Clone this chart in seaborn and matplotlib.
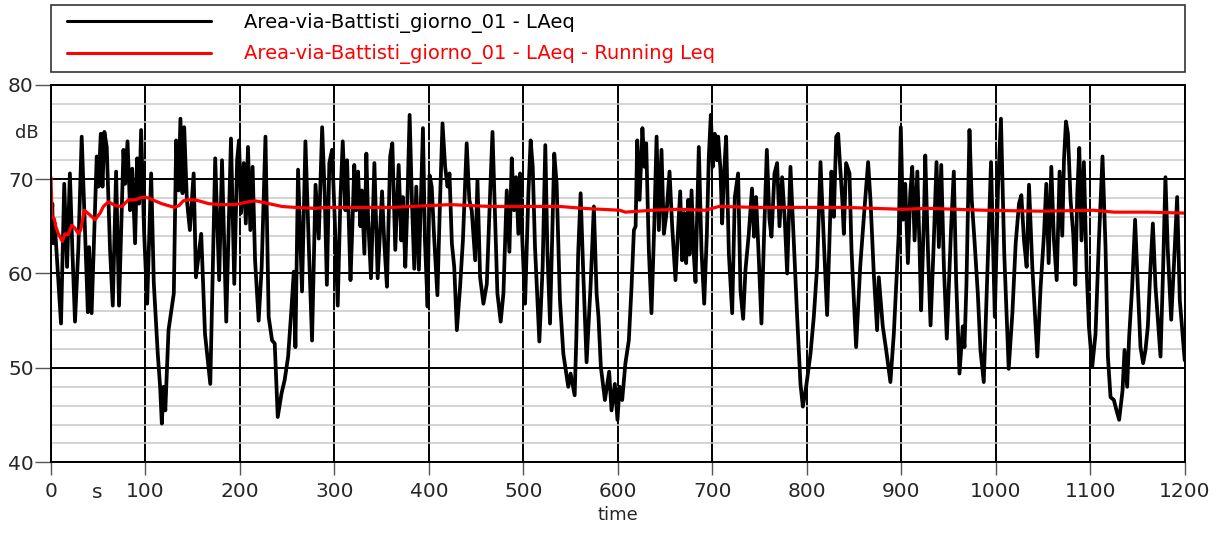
import numpy as np
import pandas as pd
import matplotlib
matplotlib.use("Agg")
import matplotlib.pyplot as plt
import matplotlib.transforms as mtrans
from matplotlib.patches import Rectangle
import seaborn as sns

# --- data (peaks / troughs of the LAeq trace) ---
time_s = [
    0, 1.4, 2, 4, 10.6, 14, 17, 20, 22.6, 25.4, 29, 32.5, 39, 40.3, 43, 48.4, 50.2, 52.7, 54.5, 56.5,
    59, 62.5, 65.4, 68.9, 72, 76.7, 78.5, 81, 83.7, 86, 89, 91.2, 93.3, 95.4, 98.5, 101.8, 106, 108.8,
    113, 115.5, 117.3, 119.2, 121, 124.4, 130, 132.5, 135, 137, 139.2, 141, 143.8, 147, 151, 153.4,
    159, 163, 168.6, 173.8, 178, 181, 185.5, 190.5, 194, 197, 199, 201.2, 204, 206.2, 208.5, 211,
    213.4, 216, 219.8, 223, 227, 230.4, 234, 236.8, 240, 244, 247.3, 251, 254.4, 257, 258.7, 261.5,
    265.7, 269.3, 272.8, 276.3, 280, 283.4, 287, 289.7, 292, 294.6, 297.5, 300, 303.5, 306.3, 308.8,
    311.6, 313.4, 317, 319, 321, 323, 325, 327.5, 329, 331.7, 333.8, 335.6, 338.7, 342.3, 345.8,
    350.4, 352.8, 355.6, 359, 361.3, 364.4, 368, 370.8, 372.5, 375, 376.8, 379.6, 382, 384.5, 386.6,
    389.4, 391.5, 393.7, 395.8, 398.6, 400.7, 403, 405.5, 409, 411.8, 414.4, 417.2, 419.7, 421.8,
    424.3, 426.8, 429.6, 433, 436, 440, 442.8, 445.3, 449, 451.4, 454.2, 457.7, 461.3, 464.8, 467.3,
    470.1, 472.5, 476, 478.9, 482.4, 485.2, 487.7, 490.1, 492.3, 494.7, 496.5, 499, 501.8, 505.3,
    507.7, 509.9, 512.3, 516.9, 520.4, 523.2, 525.4, 528.2, 531, 532.7, 535.2, 538.7, 542.3, 547.5,
    550, 554.3, 556.1, 558, 560.6, 563.4, 566.9, 571.1, 574.6, 577.5, 579.5, 582, 586.3, 590.8, 593.3,
    596.8, 599.6, 601.8, 604.6, 608, 611.6, 614.5, 617, 618.8, 620.5, 623, 626, 628.2, 630, 632.8,
    635.6, 638.5, 641, 643.4, 646.2, 648.7, 651.5, 654.7, 657.5, 661, 663.1, 666, 668, 670.2, 672.3,
    674.4, 675.8, 678, 680.4, 682.2, 685.7, 688.5, 691.4, 694.2, 696.3, 698.4, 700.5, 702.6, 704.8,
    706.2, 708.6, 710.4, 712.2, 714.6, 717.5, 721, 723.8, 727.3, 729.8, 732.6, 735.1, 738.6, 742,
    744.2, 746.3, 749.1, 752, 754.8, 757.7, 760.5, 762.6, 765.8, 768.6, 771.1, 773.9, 776.7, 779.2,
    782.7, 786.2, 789.8, 793.3, 795.8, 799.3, 803.9, 807.4, 810.9, 814.5, 818, 821.5, 824, 826.1,
    828.6, 831.1, 833.2, 835.3, 837.4, 839.2, 841.6, 845.2, 847.3, 852.2, 856.5, 860.7, 864.9, 867.4,
    870.9, 874.4, 876.2, 880.4, 884, 888.5, 892.1, 894.5, 897.3, 899.5, 901.8, 904.2, 907, 909.5,
    911.6, 914.1, 917, 919.4, 921, 924, 925.4, 928.2, 931, 934.2, 937.3, 939.8, 942.3, 945.1, 948.2,
    952.8, 955.6, 958.1, 961.6, 965.1, 966.9, 969, 972.2, 974.6, 977.5, 981, 983.8, 987.3, 991.5,
    995, 999, 1002.5, 1005.5, 1009, 1013.7, 1017.6, 1021.1, 1024.6, 1027.1, 1029.9, 1032.7, 1035.2,
    1038.7, 1044, 1047.5, 1051.1, 1053.5, 1056, 1058.8, 1061.6, 1064.5, 1067.6, 1070.4, 1072.2,
    1074.3, 1076.4, 1079.2, 1082, 1084.2, 1086.3, 1088.4, 1090.8, 1093.3, 1096.1, 1098.6, 1102.1,
    1105.6, 1109.2, 1113, 1116.2, 1118.7, 1121.5, 1125, 1127.8, 1130.6, 1134.2, 1136.3, 1139.1,
    1141.2, 1144.4, 1147.5, 1150.4, 1153.2, 1156, 1158.5, 1161, 1163.8, 1166.3, 1169.1, 1174.4,
    1177.2, 1179.6, 1182.1, 1185.7, 1188.5, 1192, 1194.8, 1197.7, 1200,
]
laeq_db = [
    64, 67.4, 63.2, 65.3, 54.7, 69.5, 60.7, 70.6, 62.5, 54.9, 62.8, 74.5, 55.9, 62.8, 55.8, 72.4, 69.2, 74.8, 69.2, 75,
    73.4, 62.5, 56.6, 70.8, 56.6, 73.1, 69.5, 74, 66.7, 71.1, 63.2, 72.2, 67.4, 75.2, 64.5, 56.8, 70.6, 59,
    51.5, 48, 44.1, 48, 45.5, 54, 57.9, 74.1, 68.8, 76.4, 68.5, 75.5, 67.8, 64.6, 70.6, 59.6,
    64.2, 53.6, 48.3, 72.2, 59.3, 72, 54.9, 74.3, 58.9, 72, 74.1, 66.4, 71.7, 65.3, 73.4, 64.6,
    71.3, 61.4, 55, 60.7, 74.5, 55.4, 52.9, 52.6, 44.8, 47.3, 48.7, 51.2, 56.1, 60.2, 52.2, 71,
    58.1, 74, 63.2, 52.9, 69.4, 63.7, 75.5, 68.5, 58.8, 71.7, 73.1, 66.7, 56.6, 67.8, 74,
    66.7, 72, 59.3, 65, 71.5, 66.7, 70.8, 65, 68.8, 62.1, 72.7, 66, 59.5, 71.7, 59.5,
    68.7, 63.2, 58.6, 72.4, 73.8, 62.5, 71.5, 63.5, 68.1, 60.7, 66, 76.8, 67.8, 60.5, 69.2,
    60.4, 67.8, 75.4, 63.5, 56.5, 70.4, 69.2, 63.9, 57.7, 67.8, 75.9, 71.3, 69.2, 70.6,
    63.2, 60.7, 54, 58.6, 63.5, 73.8, 67.8, 66.7, 61.4, 69.9, 59.6, 56.8, 58.9, 68.5, 75,
    65.7, 57.9, 54.9, 57.9, 68.8, 62.3, 72.2, 66.7, 70.2, 64.2, 70.6, 63.2, 56.8, 68.5,
    74.1, 71.3, 62.8, 52.8, 60.7, 73.6, 62.5, 54.7, 66, 72.7, 69.5, 57.2, 51.5, 48,
    49.4, 47.1, 53.3, 62.1, 68.5, 60, 50.6, 58.6, 67.1, 57.9, 55.4, 50.1, 46.6, 49.6, 45.5,
    48.3, 44.5, 48, 46.6, 50.5, 52.9, 58.6, 64.6, 65, 74.1, 67.8, 75.4, 71.3, 73.8, 62.5,
    55.8, 65, 74.5, 64.6, 73.1, 64.2, 66.4, 70.8, 65, 59.3, 63.5, 68.7, 61.4, 66.4, 61.1,
    67.8, 62, 68.8, 62, 59.1, 73.4, 62.5, 56.8, 64.2, 72.4, 76.8, 71.3, 74.8, 72,
    74.5, 71, 65.3, 70.2, 74.5, 62.1, 55.8, 68.1, 70.6, 58.2, 55.2, 60.4, 64.2, 69,
    63.9, 68.1, 61.8, 54.7, 64.2, 73.1, 65.7, 63.9, 70.6, 71.7, 65, 70.2, 65.7, 60,
    71.3, 63.5, 55.4, 48.3, 45.9, 48, 51.5, 55.4, 60.7, 71.8, 63.5, 55.6, 63.5, 70.8,
    66, 74.5, 74.8, 71.3, 68.1, 64.2, 71.7, 70.6, 62.5, 52.2, 60.7, 66.4, 71.8, 67.8,
    60, 54, 59.6, 54.4, 51.9, 48.5, 53.6, 58.6, 64.2, 75.5, 65.7, 69.5, 61.1, 68.5,
    71.3, 63.5, 70.8, 62.5, 56.1, 66, 72.5, 62.5, 54.5, 62.8, 71.8, 62.8, 71.5, 60.7, 53.1,
    65, 70.8, 59.3, 49.4, 54.4, 52.2, 58.9, 75.2, 67.8, 63.5, 57.9, 51.9, 48.5, 61.4,
    71.8, 55.4, 69.5, 76.4, 62.1, 49.9, 55.8, 63.2, 67.4, 68.3, 63.5, 60.7, 69.4,
    60.7, 51.2, 58.6, 64.2, 69.5, 61.1, 71.3, 63.5, 59.3, 70.8, 64, 72,
    76.1, 74.8, 67.8, 64.2, 58.8, 68.5, 73.3, 63.5, 71.8, 60.7, 54.4, 50.1,
    53.6, 63.5, 72.4, 62.8, 51.2, 46.9, 46.6, 45.5, 44.5, 47.6, 51.9, 48,
    53.3, 58.6, 65.7, 58.6, 52.2, 50.5, 51.9, 54.4, 60.7, 65.3, 58.6, 51.2,
    60.7, 70.2, 62.5, 55.1, 60.7, 68.1, 57.2, 53.6, 50.8,
]
leq_time_s = [
    0, 1, 3.5, 5, 7.8, 12, 14.8, 18, 21.9, 25.4, 29, 31.4, 35.3, 41.3, 46.6, 52, 55.5, 60.8, 67.8,
    74.9, 82, 89, 94.3, 99, 103, 117, 130.7, 135.5, 140, 145, 152.7, 166.8, 177, 195, 209, 216, 226,
    244.5, 258.7, 280, 290, 304.6, 360, 422.5, 464.8, 500, 538.7, 563.4, 602, 608, 636, 664, 692.8,
    707, 749, 791.5, 841, 901, 928, 988, 1048, 1103.5, 1125, 1160, 1200,
]
running_leq_db = [
    70.2, 66, 65.8, 65, 64.2, 63.4, 64.2, 64.1, 65.1, 64.8, 64.2, 64.6, 66.7, 66.2, 65.7, 66.4, 67.1, 67.6, 67.2,
    67.1, 67.8, 67.8, 68, 68.1, 68, 67.4, 67, 67.2, 67.7, 67.8, 67.8, 67.4, 67.3, 67.3, 67.6, 67.7, 67.5,
    67.1, 67, 66.9, 67, 67, 67, 67.3, 67.1, 67.1, 67.1, 66.9, 66.7, 66.5, 66.7, 66.8, 66.7,
    67.1, 67, 67, 67, 66.8, 66.9, 66.7, 66.6, 66.7, 66.5, 66.5, 66.4,
]

label_laeq = "Area-via-Battisti_giorno_01 - LAeq"
label_leq = "Area-via-Battisti_giorno_01 - LAeq - Running Leq"
x_ticks = list(range(0, 1201, 100))
y_ticks = [40, 50, 60, 70, 80]

laeq = pd.DataFrame({"time": time_s, "dB": laeq_db})
leq = pd.DataFrame({"time": leq_time_s, "dB": running_leq_db})

# --- plot ---
sns.set_theme(style="white")
plt.rcParams['font.family'] = ['DejaVu Sans']

W, H = 1219, 534
fig = plt.figure(figsize=(W / 100, H / 100), dpi=100)
ax = fig.add_axes([51 / W, 1 - 462.3 / H, (1184.7 - 51) / W, (462.3 - 84.7) / H])

ax.set_xlim(0, 1200)
ax.set_ylim(40, 80)
ax.set_xticks(x_ticks)
ax.set_yticks(y_ticks)
ax.set_yticks(np.arange(40, 81, 2), minor=True)
ax.grid(which='minor', axis='y', color='#c8c8c8', lw=1.1)
ax.grid(which='major', color='black', lw=1.4)
ax.set_axisbelow(True)

sns.lineplot(data=laeq, x="time", y="dB", color="black", lw=2.7, estimator=None,
             sort=False, ax=ax, label=label_laeq, legend=False)
sns.lineplot(data=leq, x="time", y="dB", color="#ff0000", lw=2.3, estimator=None,
             sort=False, ax=ax, label=label_leq, legend=False)

for s in ax.spines.values():
    s.set_color('black')
    s.set_linewidth(1.4)

ax.tick_params(axis='y', which='major', direction='out', length=11.5, width=1,
               color='#555555', pad=1, labelsize=14.5, left=True)
ax.tick_params(axis='y', which='minor', length=0)
ax.tick_params(axis='x', which='major', direction='out', length=9.5, width=1,
               color='#555555', pad=4.5, labelsize=14.5, bottom=True)
ax.set_ylabel("")
ax.set_xlabel("time", fontsize=13, labelpad=4)

# unit labels
ax.text(-0.021, 74.9, "dB", transform=mtrans.blended_transform_factory(ax.transAxes, ax.transData),
        ha='center', va='center', fontsize=13)
ax.text(49, -0.081, "s", transform=mtrans.blended_transform_factory(ax.transData, ax.transAxes),
        ha='center', va='center', fontsize=14.5)

# legend box above the plot
fig.patches.append(Rectangle((51 / W, 1 - 72 / H), (1185 - 51) / W, (72 - 5.3) / H,
                             transform=fig.transFigure, fill=False, edgecolor='#333333', lw=1.2))
handles, labels = ax.get_legend_handles_labels()
leg = fig.legend(handles, labels, loc='center left', bbox_to_anchor=(67 / W, 1 - 38.5 / H),
                 frameon=False, fontsize=14, handlelength=7.4, handletextpad=1.7,
                 borderpad=0, borderaxespad=0, labelspacing=0.6, labelcolor='linecolor')
for line in leg.get_lines():
    line.set_linewidth(2.2)

fig.savefig("out.png", dpi=100)
